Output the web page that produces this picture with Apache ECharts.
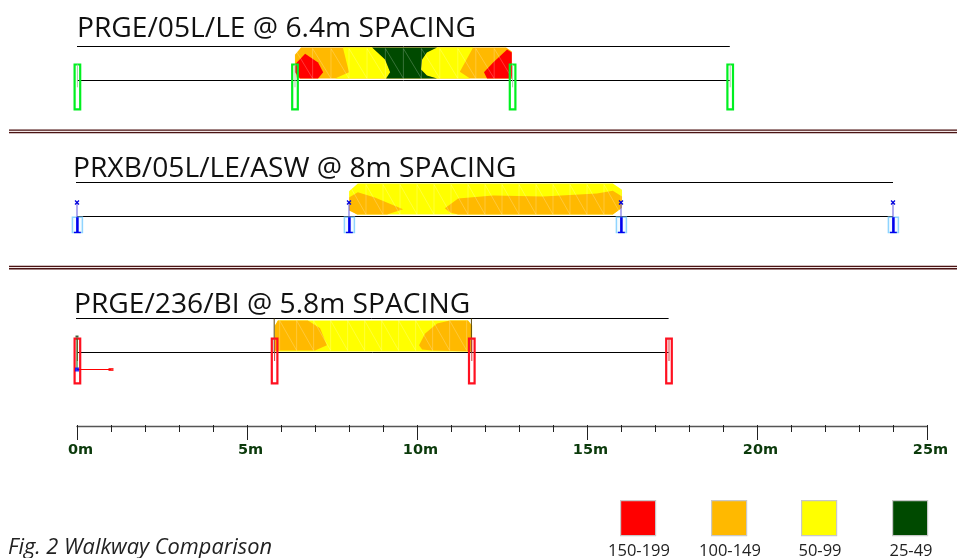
<!DOCTYPE html>
<html><head><meta charset="utf-8">
<script src="https://cdn.jsdelivr.net/npm/echarts@6/dist/echarts.min.js"></script>
<style>html,body{margin:0;background:#fff}#c{width:957px;height:558px}</style></head>
<body><div id="c"></div>
<script>
// metres along the walkway; second value = metres above the beam line
const rangeLabels = ['150-199','100-149','50-99','25-49'];
const rangeColors = ['#ff0000','#ffb900','#ffff00','#004a00'];
const titles = ['PRGE/05L/LE @ 6.4m SPACING','PRXB/05L/LE/ASW @ 8m SPACING','PRGE/236/BI @ 5.8m SPACING'];
const caption = 'Fig. 2 Walkway Comparison';

const supportsA = [0,6.4,12.8,19.2];
const supportsB = [0,8,16,24];
const supportsC = [0,5.8,11.6,17.4];

const orangeA = [[6.41,.76],[6.59,.97],[12.62,.97],[12.79,.85],[12.79,.06],[6.47,.06],[6.41,.32]];
const yellowA1 = [[7.82,.97],[8.68,.97],[9.06,.62],[9.21,.24],[9.09,.06],[7.59,.06],[8.0,.24]];
const yellowA2 = [[10.59,.97],[11.65,.97],[11.26,.26],[11.56,.06],[10.59,.06],[10.29,.15],[10.12,.32],[10.15,.62],[10.29,.82]];
const greenA = [[8.68,.97],[10.59,.97],[10.29,.82],[10.15,.62],[10.12,.32],[10.29,.15],[10.59,.06],[9.09,.06],[9.21,.24],[9.06,.62]];
const redA1 = [[6.41,.47],[6.71,.79],[7.09,.53],[7.24,.24],[7.09,.06],[6.56,.06],[6.41,.24]];
const redA2 = [[12.65,.91],[12.79,.82],[12.79,.06],[12.06,.06],[11.97,.24],[12.24,.53]];

const yellowB = [[8.0,.74],[8.26,.97],[15.76,.97],[16.03,.79],[16.03,.26],[15.76,.06],[8.24,.06],[8.0,.21]];
const orangeB1 = [[8.0,.56],[8.26,.71],[8.76,.56],[9.59,.21],[9.12,.06],[8.24,.06],[8.0,.18]];
const orangeB2 = [[10.82,.24],[11.21,.53],[12.24,.62],[13.71,.59],[15.29,.68],[15.76,.76],[16.03,.59],[16.03,.26],[15.76,.06],[11.21,.06],[10.97,.12]];

const yellowC = [[5.82,.79],[5.91,.94],[11.5,.94],[11.62,.79],[11.62,.03],[5.82,.03]];
const orangeC1 = [[5.82,.79],[5.91,.94],[6.79,.94],[7.15,.71],[7.35,.21],[7.0,.06],[5.82,.06]];
const orangeC2 = [[10.06,.21],[10.24,.56],[10.59,.85],[10.97,.94],[11.5,.94],[11.62,.79],[11.62,.03],[10.44,.06],[10.15,.09]];

const meshA = [6.4,6.93,7.47,8,8.53,9.07,9.6,10.13,10.67,11.2,11.73,12.27,12.8];
const meshB = [8,8.5,9,9.5,10,10.5,11,11.5,12,12.5,13,13.5,14,14.5,15,15.5,16];
const meshC = [5.96,6.46,6.96,7.46,7.96,8.46,8.96,9.46,9.96,10.46,10.96,11.46];

const beamEnds = [19.2,24,17.4];
const ruleA = [[0,1],[19.2,1]];
const ruleB = [[-0.15,1],[24,1]];
const ruleC = [[-0.15,1],[17.4,1]];
const edgesC = [5.8,11.6];
const loadArrow = [[0,-.5],[1,-.5]];

const chart = echarts.init(document.getElementById('c'));
const bases = [80.5,216.5,352.5];
const grids = bases.map(b => ({left:77,width:850,top:b-68,height:136}));
grids.push({left:77,width:850,top:425,height:1});
const xAxes = bases.map((b,i)=>({type:'value',gridIndex:i,min:0,max:25,show:false}));
const yAxes = bases.map((b,i)=>({type:'value',gridIndex:i,min:-2,max:2,show:false}));
xAxes.push({type:'value',gridIndex:3,min:0,max:25,interval:5,position:'top',
  axisLine:{show:true,lineStyle:{color:'#555',width:1.4}},
  axisTick:{show:false},splitLine:{show:false},minorSplitLine:{show:false},
  axisLabel:{show:false}});
xAxes.push({type:'value',gridIndex:3,min:0,max:25,interval:5,position:'bottom',offset:-1,
  axisLine:{show:false},
  axisTick:{show:true,inside:false,length:15,lineStyle:{color:'#222',width:1}},
  minorTick:{show:true,splitNumber:5,length:7,lineStyle:{color:'#222',width:1}},
  splitLine:{show:false},
  axisLabel:{show:true,margin:18,padding:[0,0,0,7],formatter:v=>v+'m',
    fontFamily:'DejaVu Sans',fontWeight:'bold',fontSize:14.5,color:'#0b3a0b'}});
yAxes.push({type:'value',gridIndex:3,min:0,max:1,show:false});

const series = [];
function poly(i,pts,color){
  series.push({type:'custom',xAxisIndex:i,yAxisIndex:i,clip:false,silent:true,data:pts,
    renderItem:(p,api)=>p.dataIndex===0?{type:'polygon',shape:{points:pts.map(q=>api.coord(q))},style:{fill:color}}:null});
}
function mesh(i,xs){
  const top=.94, bot=.06;
  series.push({type:'custom',xAxisIndex:i,yAxisIndex:i,clip:false,silent:true,data:xs.map(x=>[x]),
    renderItem:(p,api)=>{
      const x=api.value(0), idx=p.dataIndex, kids=[];
      const a=api.coord([x,top]), b=api.coord([x,bot]);
      kids.push({type:'line',shape:{x1:a[0],y1:a[1],x2:b[0],y2:b[1]},style:{stroke:'rgba(255,255,255,.28)',lineWidth:.8}});
      if(idx<xs.length-1){
        const c=api.coord([xs[idx+1],bot]);
        kids.push({type:'line',shape:{x1:a[0],y1:a[1],x2:c[0],y2:c[1]},style:{stroke:'rgba(255,255,255,.28)',lineWidth:.8}});
      }
      return {type:'group',children:kids};
    }});
}
function line(i,pts,color,w,z){
  series.push({type:'line',xAxisIndex:i,yAxisIndex:i,data:pts,showSymbol:false,silent:true,clip:false,
    lineStyle:{color:color,width:w},z:z||2});
}
function supports(i,xs,cfg){
  series.push({type:'custom',xAxisIndex:i,yAxisIndex:i,clip:false,silent:true,z:5,data:xs.map(x=>[x]),
    renderItem:(p,api)=>{
      const x=api.value(0), t=api.coord([x,cfg.top]), b=api.coord([x,cfg.bot]), kids=[];
      kids.push({type:'rect',shape:{x:t[0]-cfg.w/2+.4,y:t[1],width:cfg.w,height:b[1]-t[1]},
        style:{fill:cfg.fill||'rgba(255,255,255,0)',stroke:cfg.color,lineWidth:cfg.lw}});
      const q=api.coord([x,cfg.innerTop]), r=api.coord([x,cfg.innerBot]);
      kids.push({type:'line',shape:{x1:t[0]+.4,y1:q[1],x2:t[0]+.4,y2:r[1]},style:{stroke:cfg.inner,lineWidth:cfg.innerW}});
      if(cfg.mark){
        const m=api.coord([x,cfg.markY]);
        kids.push({type:'line',shape:{x1:m[0],y1:m[1],x2:m[0],y2:t[1]},style:{stroke:'rgba(90,80,220,.8)',lineWidth:1.2}});
        kids.push({type:'line',shape:{x1:m[0]-2,y1:m[1]-2,x2:m[0]+2,y2:m[1]+2},style:{stroke:cfg.mark,lineWidth:1.3}});
        kids.push({type:'line',shape:{x1:m[0]-2,y1:m[1]+2,x2:m[0]+2,y2:m[1]-2},style:{stroke:cfg.mark,lineWidth:1.3}});
        kids.push({type:'line',shape:{x1:t[0]-3,y1:b[1],x2:t[0]+3.8,y2:b[1]},style:{stroke:cfg.inner,lineWidth:1.4}});
      }
      return {type:'group',children:kids};
    }});
}

// panel 1
poly(0,orangeA,rangeColors[1]); poly(0,yellowA1,rangeColors[2]); poly(0,yellowA2,rangeColors[2]);
poly(0,greenA,rangeColors[3]); poly(0,redA1,rangeColors[0]); poly(0,redA2,rangeColors[0]);
mesh(0,meshA);
line(0,[[0,0],[beamEnds[0],0]],'#000',1);
line(0,ruleA,'#000',1);
supports(0,supportsA,{top:.47,bot:-.85,w:5.6,lw:2.2,color:'#00f020',inner:'#a8c8a8',innerTop:.47,innerBot:-.2,innerW:1});
// panel 2
poly(1,yellowB,rangeColors[2]); poly(1,orangeB1,rangeColors[1]); poly(1,orangeB2,rangeColors[1]);
mesh(1,meshB);
line(1,[[0,0],[beamEnds[1],0]],'#000',1);
line(1,ruleB,'#000',1);
supports(1,supportsB,{top:-.02,bot:-.47,w:10,lw:1.5,color:'#8fd4ff',fill:'#f4fbff',inner:'#0000ee',innerTop:-.02,innerBot:-.47,innerW:2.6,mark:'#0000dd',markY:.41});
// panel 3
poly(2,yellowC,rangeColors[2]); poly(2,orangeC1,rangeColors[1]); poly(2,orangeC2,rangeColors[1]);
mesh(2,meshC);
line(2,[[0,0],[beamEnds[2],0]],'#000',1);
line(2,ruleC,'#000',1);
edgesC.forEach(x=>line(2,[[x,1.0],[x,0]],'#5a4a10',1));
supports(2,supportsC,{top:.41,bot:-.91,w:5.6,lw:2.2,color:'#ff1020',inner:'#d04040',innerTop:.41,innerBot:-.25,innerW:1});
line(2,loadArrow,'#ff0000',1.2,6);
line(2,[[0,.41],[0,-.5]],'#0a6a0a',1,6);
series.push({type:'scatter',xAxisIndex:2,yAxisIndex:2,silent:true,clip:false,z:7,data:[[0,-.5]],symbol:'rect',symbolSize:4,itemStyle:{color:'#0000ff'}});
series.push({type:'scatter',xAxisIndex:2,yAxisIndex:2,silent:true,clip:false,z:7,data:[[1,-.5]],symbol:'rect',symbolSize:[5,3],itemStyle:{color:'#ff0000'}});
series.push({type:'scatter',xAxisIndex:2,yAxisIndex:2,silent:true,clip:false,z:7,data:[[0,.47]],symbol:'rect',symbolSize:[3,2],itemStyle:{color:'#0a3a0a'}});
// keep the ruler axes alive
series.push({type:'line',xAxisIndex:3,yAxisIndex:3,data:[],silent:true});
series.push({type:'line',xAxisIndex:4,yAxisIndex:3,data:[],silent:true});

const titleFont={fontFamily:'Open Sans',fontSize:28.2,fontWeight:'normal',color:'#111'};
const titleCfg=[
  {text:titles[0],left:72,top:10,textStyle:titleFont},
  {text:titles[1],left:68,top:150,textStyle:titleFont},
  {text:titles[2],left:69,top:286,textStyle:titleFont},
  {text:caption,left:3,top:532,textStyle:{fontFamily:'Open Sans',fontStyle:'italic',fontSize:21.8,fontWeight:'normal',color:'#222'}}
];
const legendX=[620,711,801,892];
const legendLabelX=[639,730,820,911];
const graphic=[];
[[129.5,133.2],[265.7,269.4]].forEach(([a,b])=>{
  graphic.push({type:'rect',left:9,top:a,shape:{width:948,height:b-a},style:{fill:'#f2e6e6'}});
  graphic.push({type:'rect',left:9,top:a,shape:{width:948,height:1.3},style:{fill:'#4a1414'}});
  graphic.push({type:'rect',left:9,top:b-1.3,shape:{width:948,height:1.3},style:{fill:'#4a1414'}});
});
rangeLabels.forEach((t,i)=>{
  graphic.push({type:'rect',left:legendX[i],top:500,shape:{width:35,height:35},style:{fill:rangeColors[i],stroke:'#c8c8c8',lineWidth:1.2}});
  graphic.push({type:'text',style:{text:t,x:legendLabelX[i],y:551,align:'center',verticalAlign:'middle',fontFamily:'Open Sans',fontSize:16.5,fill:'#222'}});
});
chart.setOption({animation:false,backgroundColor:'#fff',title:titleCfg,grid:grids,xAxis:xAxes,yAxis:yAxes,series,graphic});
</script></body></html>
